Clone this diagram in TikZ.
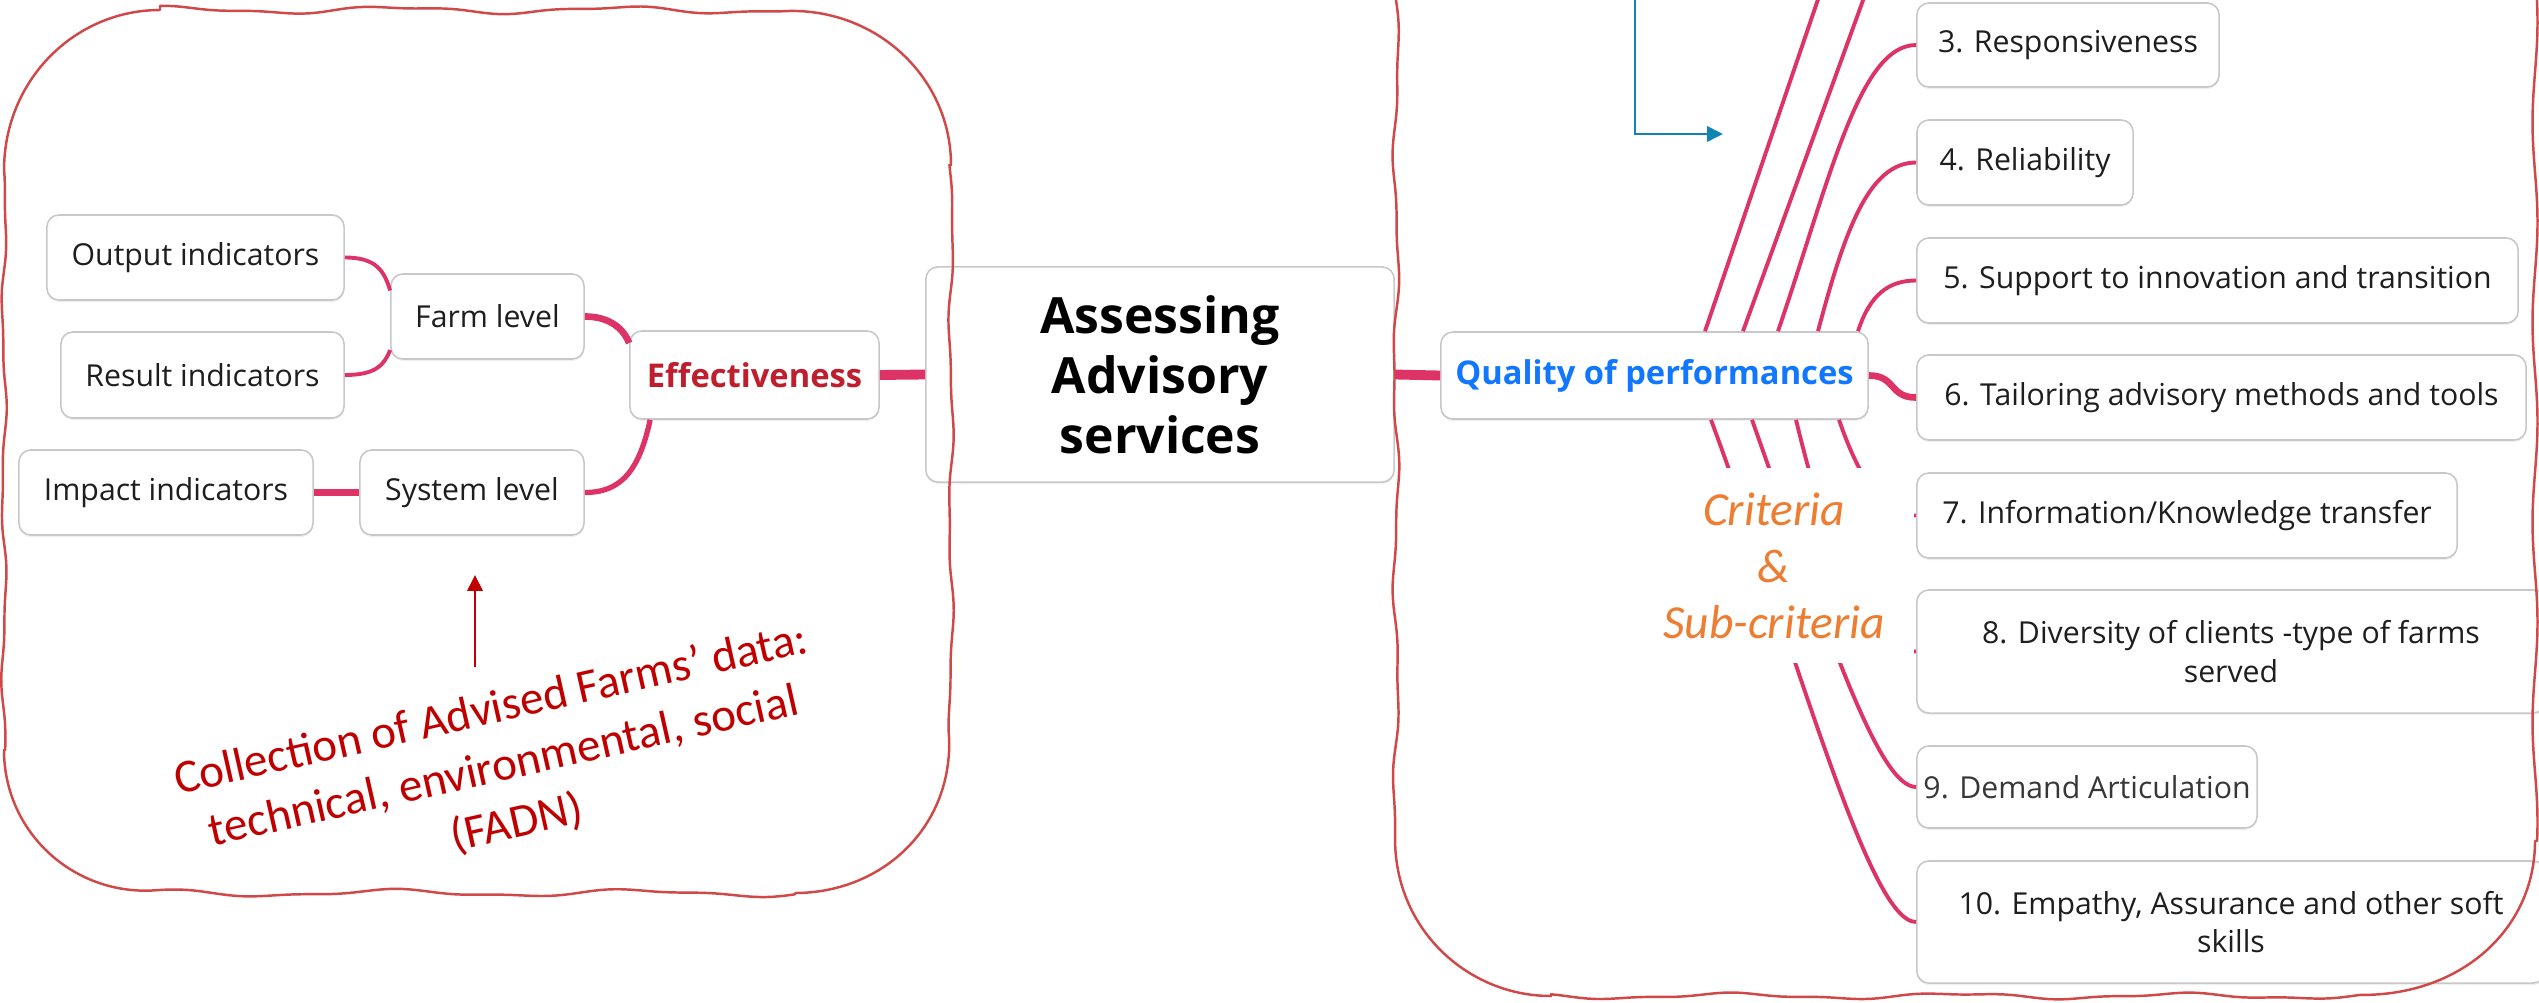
\documentclass[tikz,border=0pt]{standalone}
\usepackage{fontspec}
\setmainfont{Open Sans}
\newfontfamily\calib{Carlito}
\usetikzlibrary{arrows.meta,calc,shadows}

\definecolor{conn}{RGB}{221,51,102}
\definecolor{wave}{RGB}{208,72,72}
\definecolor{boxgray}{RGB}{200,200,200}
\definecolor{effred}{RGB}{190,30,45}
\definecolor{qblue}{RGB}{17,119,255}
\definecolor{darkred}{RGB}{192,0,0}
\definecolor{orng}{RGB}{237,125,49}
\definecolor{arrblue}{RGB}{16,132,178}
\definecolor{txt}{RGB}{30,30,30}

\tikzset{
  mbox/.style={draw=boxgray, line width=0.45pt, rounded corners=0.12cm, fill=white,
    drop shadow={opacity=0.12, shadow xshift=0pt, shadow yshift=-0.6pt},
    text=txt, inner sep=0pt, align=center, font=\fontsize{8.6pt}{11pt}\selectfont},
  bbox/.style={mbox, font=\bfseries\fontsize{9.3pt}{11pt}\selectfont},
  mainbox/.style={mbox, font=\bfseries\fontsize{14.2pt}{17pt}\selectfont, text=black},
  cthin/.style={draw=conn, line width=1.1pt},
  cmid/.style={draw=conn, line width=1.9pt},
  cthick/.style={draw=conn, line width=2.8pt},
  wavy/.style={draw=wave, line width=0.7pt, line join=round},
  redtxt/.style={text=darkred, align=center, font=\calib\fontsize{13.4pt}{16.5pt}\selectfont},
  crit/.style={text=orng, align=center, font=\calib\itshape\fontsize{13.5pt}{16pt}\selectfont}
}

\begin{document}
\begin{tikzpicture}[x=0.01cm, y=-0.01cm]
\useasboundingbox (0,0) rectangle (2539,1003);
\clip (0,0) rectangle (2539,1003);

% left side nodes
\node[mbox, minimum width=2.97cm, minimum height=0.85cm] (out) at (195.5,257.5) {Output indicators};
\node[mbox, minimum width=2.83cm, minimum height=0.86cm] (res) at (202.5,375) {Result indicators};
\node[mbox, minimum width=1.93cm, minimum height=0.85cm] (farm) at (487.5,316.5) {Farm level};
\node[mbox, minimum width=2.94cm, minimum height=0.85cm] (imp) at (166,492.5) {Impact indicators};
\node[mbox, minimum width=2.24cm, minimum height=0.85cm] (sys) at (472,492.5) {System level};
\node[bbox, text=effred, minimum width=2.49cm, minimum height=0.88cm] (eff) at (754.5,375) {Effectiveness};
\node[mainbox, minimum width=4.68cm, minimum height=2.15cm] (main) at (1160,374.5) {Assessing\\Advisory\\services};
\node[bbox, text=qblue, minimum width=4.27cm, minimum height=0.87cm] (qual) at (1654.5,375.5) {Quality of performances};

% right side nodes
\node[mbox, minimum width=3.02cm, minimum height=0.84cm] (c3) at (2068,45) {3. Responsiveness};
\node[mbox, minimum width=2.16cm, minimum height=0.85cm] (c4) at (2025,162.5) {4. Reliability};
\node[mbox, minimum width=6.01cm, minimum height=0.85cm] (c5) at (2217.5,280.5) {5. Support to innovation and transition};
\node[mbox, minimum width=6.09cm, minimum height=0.85cm] (c6) at (2221.5,397.5) {6. Tailoring advisory methods and tools};
\node[mbox, minimum width=5.40cm, minimum height=0.85cm] (c7) at (2187,515.5) {7. Information/Knowledge transfer};
\node[mbox, minimum width=6.28cm, minimum height=1.23cm] (c8) at (2231,651.5) {8. Diversity of clients -type of farms\\served};
\node[mbox, text={rgb,255:red,55;green,55;blue,55}, minimum width=3.40cm, minimum height=0.82cm] (c9) at (2087,787) {9. Demand Articulation};
\node[mbox, minimum width=6.28cm, minimum height=1.22cm] (c10) at (2231,922) {10. Empathy, Assurance and other soft\\skills};

% left connectors
\draw[cthin] (out.east) .. controls +(31,0) and +(-6,-20) .. ($(farm.west)+(0,-26)$);
\draw[cthin] (res.east) .. controls +(31,0) and +(-6,15) .. ($(farm.west)+(0,33.5)$);
\draw[cmid] (farm.east) .. controls +(26,0) and +(-5,-13) .. ($(eff.west)+(0,-32)$);
\draw[cthin, line width=1.5pt] ($(eff.south west)+(21,0)$) .. controls +(-11,51) and +(36,0) .. (sys.east);
\draw[cmid, line width=2.2pt] (imp.east) -- (sys.west);
\draw[cthick] (eff.east) -- (main.west);
\draw[cthick] (main.east) -- (qual.west);

% upper right connectors
\coordinate (p1) at (1828,-30);
\coordinate (p2) at (1874,-30);
\draw[cthin] ($(qual.north)+(50.5,0)$) -- (p1);
\draw[cthin] ($(qual.north)+(88.5,0)$) -- (p2);
\draw[cthin] ($(qual.north)+(123.5,0)$) .. controls +(52,-152) and +(-57,0) .. (c3.west);
\draw[cthin] ($(qual.north)+(163.5,0)$) .. controls +(27,-102) and +(-47,0) .. (c4.west);
\draw[cthin] ($(qual.north)+(203.5,0)$) .. controls +(12,-37) and +(-27,0) .. (c5.west);
\draw[cmid] (qual.east) .. controls +(27,0) and +(-27,0) .. (c6.west);

% lower right connectors
\draw[cthin] ($(qual.south)+(56.5,0)$) .. controls +(89,241) and +(-47,0) .. (c10.west);
\draw[cthin] ($(qual.south)+(97.5,0)$) .. controls +(78,221) and +(-37,0) .. (c9.west);
\draw[cthin] ($(qual.south)+(141.5,0)$) .. controls +(34,141) and +(-47,0) .. (c8.west);
\draw[cthin] ($(qual.south)+(184.5,0)$) .. controls +(21,61) and +(-32,0) .. (c7.west);

% criteria label
\fill[white] (1650,468) rectangle (1914,663);
\node[crit] (crit) at (1774,566) {Criteria\\\&\\Sub-criteria};

% red note and arrow
\node[redtxt, rotate=12.7] (coll) at (504,767) {Collection of Advised Farms’ data:\\technical, environmental, social\\(FADN)};
\coordinate (rtail) at (475,667);
\coordinate (rtip) at (475,575);
\draw[darkred, line width=0.8pt, -{Triangle[length=4.5pt,width=4.3pt]}] (rtail) -- (rtip);

% blue arrow
\coordinate (bstart) at (1635,-5);
\coordinate (btip) at (1723,134);
\draw[arrblue, line width=0.75pt, -{Triangle[length=4.5pt,width=4.3pt]}] (bstart) |- (btip);

% wavy frames
\draw[wavy] plot[domain=160:790, samples=90] (\x,{10+3*sin(1.6*\x)+1.2*sin(3.7*\x+30)})
  .. controls (880,10) and (951,80) .. (951,165)
  -- plot[domain=165:740, samples=90] ({951+2*sin(1.9*\x)+0.8*sin(4.3*\x)},\x)
  .. controls (951,830) and (880,893) .. (795,893)
  -- plot[domain=795:150, samples=90] (\x,{893+3*sin(1.5*\x+40)+1.2*sin(3.4*\x)})
  .. controls (70,893) and (4,830) .. (4,750)
  -- plot[domain=750:170, samples=90] ({4+2*sin(2*\x)+0.8*sin(4.6*\x+10)},\x)
  .. controls (4,80) and (75,10) .. (160,10) -- cycle;
\draw[wavy] plot[domain=-60:841, samples=120] ({1396+2.5*sin(1.7*\x)+1*sin(4.1*\x)},\x)
  .. controls (1396,930) and (1468,996) .. (1551,996)
  -- plot[domain=1551:2360, samples=110] (\x,{996+2.5*sin(1.6*\x+20)+1*sin(3.9*\x)})
  .. controls (2460,996) and (2535,930) .. (2535,841)
  -- plot[domain=841:-60, samples=120] ({2535+2.5*sin(1.8*\x+50)},\x);
\end{tikzpicture}
\end{document}
